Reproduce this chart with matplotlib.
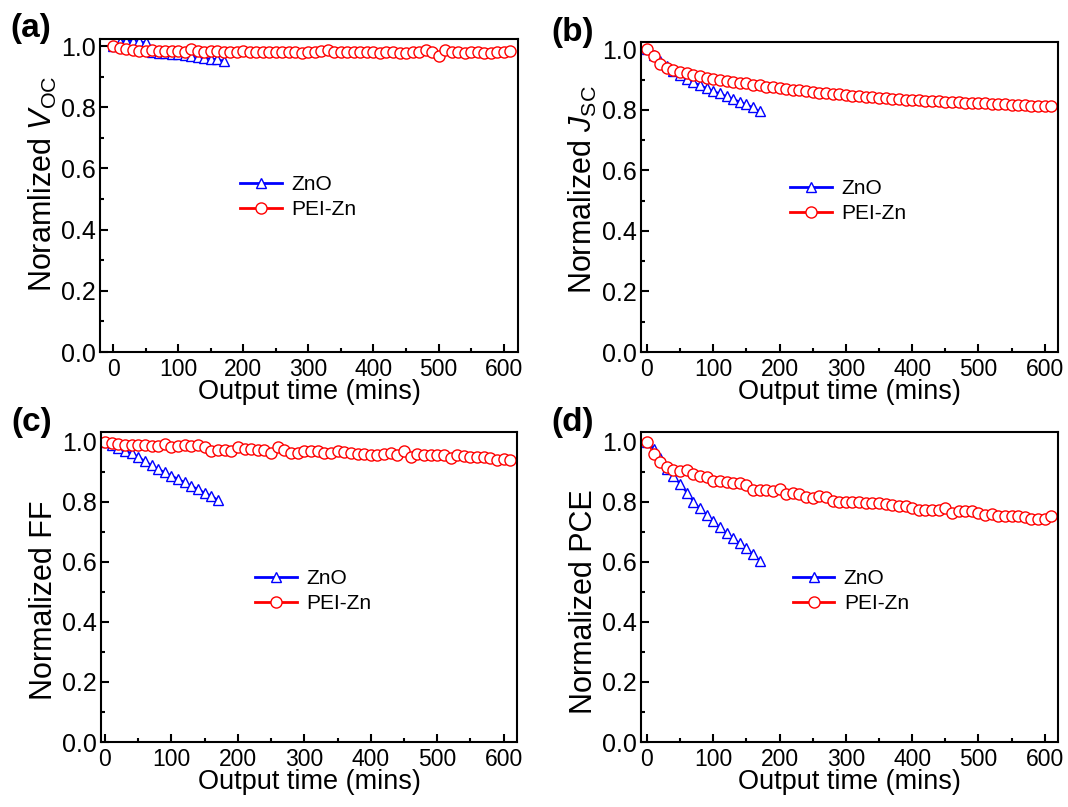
import matplotlib
matplotlib.use("Agg")
import matplotlib.pyplot as plt
from matplotlib.ticker import MultipleLocator

plt.rcParams["font.family"] = "Liberation Sans"
plt.rcParams["mathtext.fontset"] = "custom"
plt.rcParams["mathtext.rm"] = "Liberation Sans"
plt.rcParams["mathtext.it"] = "Liberation Sans:italic"

# aikapisteet (min)
t_zno = list(range(0, 180, 10))
t_pei = list(range(0, 620, 10))

# (a) Voc
voc_zno = [1.000, 1.013, 1.018, 1.017, 1.015, 1.012, 0.980, 0.978, 0.977, 0.975,
           0.973, 0.970, 0.967, 0.965, 0.962, 0.959, 0.957, 0.952]
voc_pei = [1.000, 0.993, 0.990, 0.987, 0.985, 0.984, 0.986, 0.985, 0.984, 0.983,
           0.984, 0.982, 0.990, 0.983, 0.982, 0.984, 0.983, 0.982, 0.981, 0.982,
           0.983, 0.981, 0.980, 0.982, 0.981, 0.980, 0.979, 0.981, 0.980, 0.976,
           0.979, 0.981, 0.983, 0.986, 0.980, 0.979, 0.981, 0.980, 0.979, 0.980,
           0.979, 0.978, 0.980, 0.979, 0.978, 0.977, 0.979, 0.980, 0.987, 0.982,
           0.968, 0.986, 0.980, 0.979, 0.978, 0.979, 0.980, 0.978, 0.977, 0.979,
           0.980, 0.985]

# (b) Jsc
jsc_zno = [1.000, 0.980, 0.961, 0.944, 0.928, 0.914, 0.903, 0.892, 0.881, 0.872,
           0.862, 0.854, 0.845, 0.836, 0.827, 0.818, 0.808, 0.795]
jsc_pei = [1.000, 0.977, 0.950, 0.938, 0.931, 0.925, 0.920, 0.914, 0.911, 0.906,
           0.903, 0.900, 0.895, 0.892, 0.890, 0.887, 0.883, 0.881, 0.877, 0.874,
           0.872, 0.869, 0.867, 0.864, 0.862, 0.860, 0.857, 0.855, 0.853, 0.851,
           0.849, 0.847, 0.845, 0.843, 0.841, 0.840, 0.838, 0.837, 0.835, 0.834,
           0.832, 0.831, 0.830, 0.829, 0.828, 0.827, 0.826, 0.825, 0.824, 0.823,
           0.822, 0.821, 0.820, 0.819, 0.818, 0.817, 0.816, 0.815, 0.814, 0.813,
           0.813, 0.812]

# (c) FF
ff_zno = [1.000, 0.990, 0.978, 0.970, 0.962, 0.950, 0.935, 0.922, 0.910, 0.898,
          0.887, 0.876, 0.865, 0.853, 0.842, 0.830, 0.820, 0.806]
ff_pei = [1.000, 0.996, 0.992, 0.990, 0.988, 0.990, 0.988, 0.987, 0.984, 0.992,
          0.981, 0.984, 0.988, 0.984, 0.988, 0.981, 0.970, 0.973, 0.973, 0.970,
          0.981, 0.977, 0.977, 0.973, 0.973, 0.962, 0.981, 0.973, 0.962, 0.962,
          0.968, 0.968, 0.968, 0.962, 0.962, 0.970, 0.966, 0.962, 0.959, 0.959,
          0.957, 0.957, 0.959, 0.962, 0.957, 0.968, 0.948, 0.959, 0.957, 0.955,
          0.955, 0.957, 0.946, 0.955, 0.951, 0.949, 0.949, 0.949, 0.946, 0.940,
          0.942, 0.940]

# (d) PCE
pce_zno = [1.000, 0.975, 0.945, 0.910, 0.885, 0.858, 0.830, 0.800, 0.778, 0.757,
           0.735, 0.715, 0.696, 0.678, 0.662, 0.645, 0.625, 0.604]
pce_pei = [1.000, 0.960, 0.932, 0.916, 0.905, 0.902, 0.905, 0.891, 0.886, 0.883,
           0.868, 0.868, 0.866, 0.861, 0.861, 0.855, 0.839, 0.839, 0.839, 0.835,
           0.842, 0.824, 0.830, 0.824, 0.817, 0.811, 0.820, 0.817, 0.802, 0.800,
           0.798, 0.798, 0.798, 0.795, 0.795, 0.795, 0.792, 0.788, 0.785, 0.785,
           0.779, 0.774, 0.774, 0.774, 0.771, 0.779, 0.763, 0.769, 0.769, 0.769,
           0.763, 0.755, 0.758, 0.752, 0.752, 0.752, 0.752, 0.749, 0.744, 0.744,
           0.744, 0.752]

W, H = 1068, 807
fig = plt.figure(figsize=(W / 100, H / 100), dpi=100)

# (tunniste, data, y-otsikko, akselin pikselit [vasen, ylä, oikea, ala], xlim, ylim,
#  legendin paikka, y-otsikon pikselipaikka)
panels = [
    ("(a)", voc_zno, voc_pei, r"Noramlized $V_{\mathrm{OC}}$", (100, 39, 518, 352),
     (-20, 622), (0, 1.023), (0.335, 0.565), (52, 184)),
    ("(b)", jsc_zno, jsc_pei, r"Normalized $J_{\mathrm{SC}}$", (641, 42, 1058, 352),
     (-9, 620), (0, 1.024), (0.357, 0.558), (592, 190)),
    ("(c)", ff_zno, ff_pei, "Normalized FF", (101, 432, 517, 742),
     (-6, 620), (0, 1.032), (0.370, 0.558), (52, 600)),
    ("(d)", pce_zno, pce_pei, "Normalized PCE", (641, 432, 1058, 742),
     (-9, 620), (0, 1.032), (0.364, 0.558), (592, 602)),
]

for tag, y_zno, y_pei, ylabel, box, xlim, ylim, leg_pos, ylab_px in panels:
    l, t, r, b = box
    ax = fig.add_axes([l / W, 1 - b / H, (r - l) / W, (b - t) / H])
    ax.plot(t_zno, y_zno, color="#0000FF", lw=1.3, marker="^", ms=7.5,
            mfc="white", mec="#0000FF", mew=1.0, label="ZnO")
    ax.plot(t_pei, y_pei, color="#FF0000", lw=1.3, marker="o", ms=8,
            mfc="white", mec="#FF0000", mew=1.0, label="PEI-Zn")
    ax.set_xlim(*xlim)
    ax.set_ylim(*ylim)
    ax.xaxis.set_major_locator(MultipleLocator(100))
    ax.xaxis.set_minor_locator(MultipleLocator(50))
    ax.set_yticks([0.0, 0.2, 0.4, 0.6, 0.8, 1.0])
    ax.set_yticklabels(["0.0", "0.2", "0.4", "0.6", "0.8", "1.0"])
    ax.yaxis.set_minor_locator(MultipleLocator(0.1))
    ax.tick_params(which="both", direction="in", width=1.5, top=False, right=False)
    ax.tick_params(which="major", length=6)
    ax.tick_params(which="minor", length=3)
    ax.tick_params(axis="x", labelsize=16.5, pad=4)
    ax.tick_params(axis="y", labelsize=18, pad=3)
    for sp in ax.spines.values():
        sp.set_linewidth(1.5)
    ax.set_xlabel("Output time (mins)", fontsize=19.5, labelpad=-1)
    fig.text(ylab_px[0] / W, 1 - ylab_px[1] / H, ylabel, fontsize=22,
             rotation=90, rotation_mode="anchor", ha="center", va="baseline")
    leg = ax.legend(loc="upper left", bbox_to_anchor=leg_pos, frameon=False,
                    fontsize=15, handlelength=2.0, handletextpad=0.45,
                    labelspacing=0.3, borderpad=0, borderaxespad=0)
    for h in leg.get_lines():
        h.set_linewidth(2.0)
    fig.text((l - 90) / W, 1 - (t - 10) / H, tag, fontsize=24,
             fontweight="bold", ha="left", va="center")

fig.savefig("out.png", dpi=100)
